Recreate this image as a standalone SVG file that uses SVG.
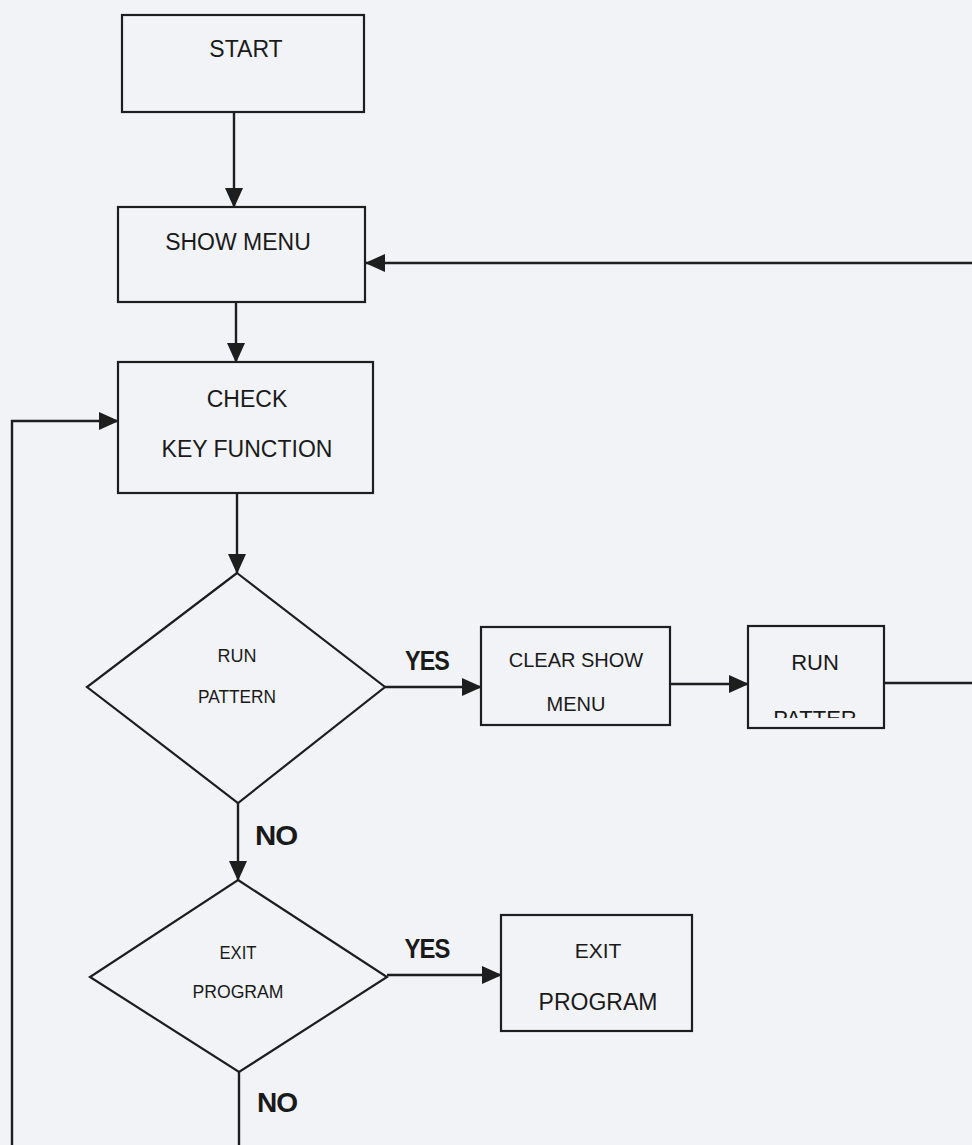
<svg xmlns="http://www.w3.org/2000/svg" width="972" height="1145" viewBox="0 0 972 1145">
<style>
.bg{fill:#f1f3f7}
.box{fill:none;stroke:#1e1e1e;stroke-width:2.2}
.con{fill:none;stroke:#1e1e1e;stroke-width:2.4}
.t{font-family:"Liberation Sans",Arial,sans-serif;fill:#1a1a1a;text-anchor:middle}
.lb{font-family:"Liberation Sans",Arial,sans-serif;font-weight:bold;fill:#1a1a1a;text-anchor:middle;letter-spacing:-1px}
</style>
<defs>
<marker id="ah" markerUnits="userSpaceOnUse" markerWidth="20" markerHeight="20" viewBox="0 0 20 20" refX="19" refY="10" orient="auto">
<path d="M0,1 L20,10 L0,19 z" fill="#1e1e1e"/>
</marker>
<clipPath id="clipPatter"><rect x="748" y="700" width="136" height="18"/></clipPath>
</defs>
<rect class="bg" x="0" y="0" width="972" height="1145"/>
<g id="connectors">
<line class="con" x1="234" y1="112" x2="234" y2="207" marker-end="url(#ah)"/>
<line class="con" x1="236" y1="302" x2="236" y2="362" marker-end="url(#ah)"/>
<line class="con" x1="237" y1="493" x2="237" y2="573" marker-end="url(#ah)"/>
<line class="con" x1="385" y1="687" x2="481" y2="687" marker-end="url(#ah)"/>
<line class="con" x1="670" y1="684" x2="748" y2="684" marker-end="url(#ah)"/>
<line class="con" x1="884" y1="683" x2="972" y2="683"/>
<line class="con" x1="972" y1="263" x2="366" y2="263" marker-end="url(#ah)"/>
<line class="con" x1="238" y1="803" x2="238" y2="880" marker-end="url(#ah)"/>
<line class="con" x1="387" y1="975" x2="501" y2="975" marker-end="url(#ah)"/>
<line class="con" x1="239" y1="1072" x2="239" y2="1145"/>
<polyline class="con" points="12,1145 12,421 118,421" marker-end="url(#ah)"/>
<text class="lb" x="427" y="670" font-size="27" textLength="44" lengthAdjust="spacingAndGlyphs">YES</text>
<text class="lb" x="276" y="845" font-size="27" textLength="42" lengthAdjust="spacingAndGlyphs">NO</text>
<text class="lb" x="427" y="958" font-size="27" textLength="45" lengthAdjust="spacingAndGlyphs">YES</text>
<text class="lb" x="277" y="1112" font-size="27" textLength="40" lengthAdjust="spacingAndGlyphs">NO</text>
</g>
<g id="start">
<rect class="box" x="122" y="15" width="242" height="97"/>
<text class="t" x="246" y="57" font-size="23">START</text>
</g>
<g id="show-menu">
<rect class="box" x="118" y="207" width="247" height="95"/>
<text class="t" x="238" y="250" font-size="23">SHOW MENU</text>
</g>
<g id="check-key">
<rect class="box" x="118" y="362" width="255" height="131"/>
<text class="t" x="247" y="407" font-size="23">CHECK</text>
<text class="t" x="247" y="457" font-size="23">KEY FUNCTION</text>
</g>
<g id="run-pattern-decision">
<polygon class="box" points="237,573 385,687 238,803 87,687"/>
<text class="t" x="237" y="662" font-size="19" textLength="39" lengthAdjust="spacingAndGlyphs">RUN</text>
<text class="t" x="237" y="703" font-size="19" textLength="78" lengthAdjust="spacingAndGlyphs">PATTERN</text>
</g>
<g id="clear-show-menu">
<rect class="box" x="481" y="627" width="189" height="98"/>
<text class="t" x="576" y="667" font-size="20">CLEAR SHOW</text>
<text class="t" x="576" y="711" font-size="20">MENU</text>
</g>
<g id="run-pattern">
<rect class="box" x="748" y="626" width="136" height="102"/>
<text class="t" x="815" y="670" font-size="22">RUN</text>
<text class="t" x="815" y="726" font-size="22" clip-path="url(#clipPatter)">PATTER</text>
</g>
<g id="exit-program-decision">
<polygon class="box" points="238,880 387,977 239,1072 90,977"/>
<text class="t" x="238" y="959" font-size="19" textLength="37" lengthAdjust="spacingAndGlyphs">EXIT</text>
<text class="t" x="238" y="998" font-size="19" textLength="91" lengthAdjust="spacingAndGlyphs">PROGRAM</text>
</g>
<g id="exit-program">
<rect class="box" x="501" y="915" width="191" height="116"/>
<text class="t" x="598" y="958" font-size="21">EXIT</text>
<text class="t" x="598" y="1010" font-size="23">PROGRAM</text>
</g>
</svg>
